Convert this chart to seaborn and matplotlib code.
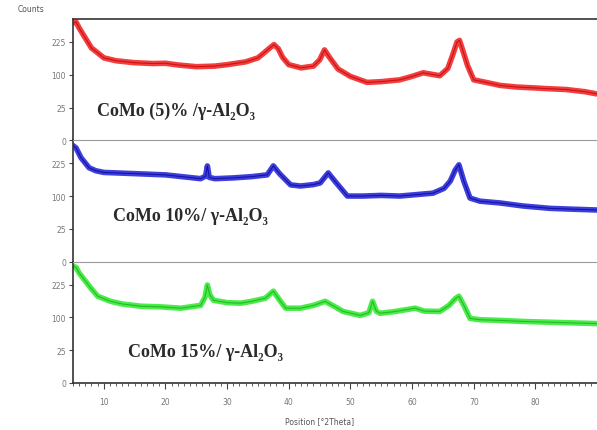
import numpy as np
import pandas as pd
import matplotlib
matplotlib.use("Agg")
import matplotlib.pyplot as plt
import seaborn as sns

# ---- data (2-theta in degrees, counts) ----
theta_5 = [5, 5.5, 6, 7, 8, 9, 10, 12, 15, 18, 20, 22, 25, 28, 30, 33, 35, 36, 37, 37.6,
           38.3, 39, 40, 42, 44, 45, 45.8, 46.6, 48, 50, 52.7, 55, 58, 60, 61.8, 63, 64.5,
           65.8, 66.6, 67.3, 67.7, 68.2, 69, 70, 72, 74.3, 77, 79.6, 82, 85, 88, 90]
counts_5 = [320, 325, 293, 243, 198, 178, 158, 147, 140, 137, 138, 132, 126, 128, 133, 143,
            158, 178, 200, 213, 195, 160, 133, 122, 128, 150, 190, 160, 118, 95, 78, 80, 85,
            95, 106, 102, 97, 120, 170, 225, 232, 190, 130, 85, 78, 70, 66, 64, 62, 60, 55, 50]

theta_10 = [5, 5.5, 6.3, 7.6, 8.7, 10, 15, 20, 25.7, 26.5, 26.8, 27.1, 28, 31, 34, 36.5,
            37.5, 38.5, 40.3, 41.9, 44, 45.1, 46.4, 47.5, 49.5, 52, 55, 58, 61, 63.4, 65.2,
            66.2, 67, 67.6, 68.4, 69.4, 71, 74.3, 78, 82.4, 86, 90]
counts_10 = [313, 300, 251, 205, 192, 185, 180, 175, 160, 170, 213, 165, 160, 163, 168, 175,
             213, 180, 137, 133, 138, 144, 183, 150, 100, 100, 102, 100, 105, 109, 125, 151,
             195, 218, 150, 94, 85, 80, 72, 66, 64, 62]

theta_15 = [5, 5.5, 6, 7.9, 9, 11.1, 13, 16, 19, 22.5, 25.7, 26.4, 26.8, 27.2, 27.8, 30,
            32.2, 34, 36.2, 37.5, 38.5, 39.5, 41.9, 44, 45.9, 47.5, 48.8, 51.6, 53, 53.6,
            54.2, 54.8, 57, 60.5, 62, 64.5, 66, 67, 67.6, 68.4, 69.4, 71, 74.3, 78, 82, 86, 90]
counts_15 = [318, 310, 281, 209, 175, 155, 145, 137, 135, 130, 140, 170, 223, 180, 159, 150,
             148, 155, 167, 196, 160, 130, 130, 140, 155, 135, 119, 106, 115, 155, 120, 113,
             118, 130, 120, 119, 140, 165, 175, 140, 97, 93, 91, 88, 86, 84, 82]

labels = ["CoMo (5)% /γ-Al₂O₃", "CoMo 10%/ γ-Al₂O₃", "CoMo 15%/ γ-Al₂O₃"]
colors = ["#f01c1c", "#1c1cd8", "#2ae82a"]
core_colors = ["#b80000", "#00008a", "#12a812"]
y_ticks = [0, 25, 100, 225]
x_ticks = [10, 20, 30, 40, 50, 60, 70, 80]

series = [(theta_5, counts_5), (theta_10, counts_10), (theta_15, counts_15)]

sns.set_theme(style="white")
plt.rcParams['font.family'] = ['DejaVu Sans']

fig = plt.figure(figsize=(5.97, 4.31), dpi=100)
left, right = 73 / 597, 1.0
top_px, bot_px = 20, 384
h = (bot_px - top_px) / 3

label_pos = [(0.045, 0.25), (0.077, 0.38), (0.105, 0.26)]

for i, ((tx, cy), lab, col, ccol) in enumerate(zip(series, labels, colors, core_colors)):
    y_top = top_px + i * h
    ax = fig.add_axes([left, 1 - (y_top + h) / 431, right - left, h / 431])
    df = pd.DataFrame({"theta": tx, "counts": cy})
    sns.lineplot(data=df, x="theta", y="counts", ax=ax, color=col, lw=4.0, alpha=0.85)
    sns.lineplot(data=df, x="theta", y="counts", ax=ax, color=ccol, lw=0.8, alpha=0.7)
    ax.set_yscale('function', functions=(lambda v: np.sqrt(np.clip(v, 0, None)), np.square))
    ax.set_ylim(0, 342)
    ax.set_xlim(5, 90)
    ax.set_yticks(y_ticks)
    ax.set_yticklabels([str(t) for t in y_ticks], fontsize=5.5, color="#777777")
    ax.set_xlabel("")
    ax.set_ylabel("")
    ax.set_xticks(x_ticks)
    ax.set_xticks(np.arange(5, 91, 1), minor=True)
    ax.tick_params(axis='y', direction='out', length=3, width=0.8, color="#444444", pad=2, left=True)
    ax.spines['right'].set_visible(False)
    ax.spines['left'].set_color("#333333")
    ax.spines['left'].set_linewidth(1.2)
    ax.spines['top'].set_color("#333333" if i == 0 else "#999999")
    ax.spines['top'].set_linewidth(1.2 if i == 0 else 0.8)
    if i < 2:
        ax.spines['bottom'].set_visible(False)
        ax.tick_params(axis='x', which='both', bottom=False, labelbottom=False)
    else:
        ax.spines['bottom'].set_color("#333333")
        ax.spines['bottom'].set_linewidth(1.2)
        ax.set_xticklabels([str(t) for t in x_ticks], fontsize=5.5, color="#777777")
        ax.tick_params(axis='x', which='major', direction='out', length=4, width=0.8,
                       color="#444444", pad=6, bottom=True)
        ax.tick_params(axis='x', which='minor', direction='out', length=2, width=0.6,
                       color="#444444", bottom=True)
    ax.text(label_pos[i][0], label_pos[i][1], lab, transform=ax.transAxes,
            fontsize=13, fontweight='bold', family=['Liberation Serif', 'DejaVu Serif'],
            color="#2a2a2a", ha='left', va='center')

fig.text(18 / 597, 1 - 9 / 431, "Counts", fontsize=5.5, color="#555555", ha='left', va='center')
fig.text(320 / 597, 1 - 422 / 431, "Position [°2Theta]", fontsize=5.5, color="#555555",
         ha='center', va='center')

fig.savefig("out.png", dpi=100)
